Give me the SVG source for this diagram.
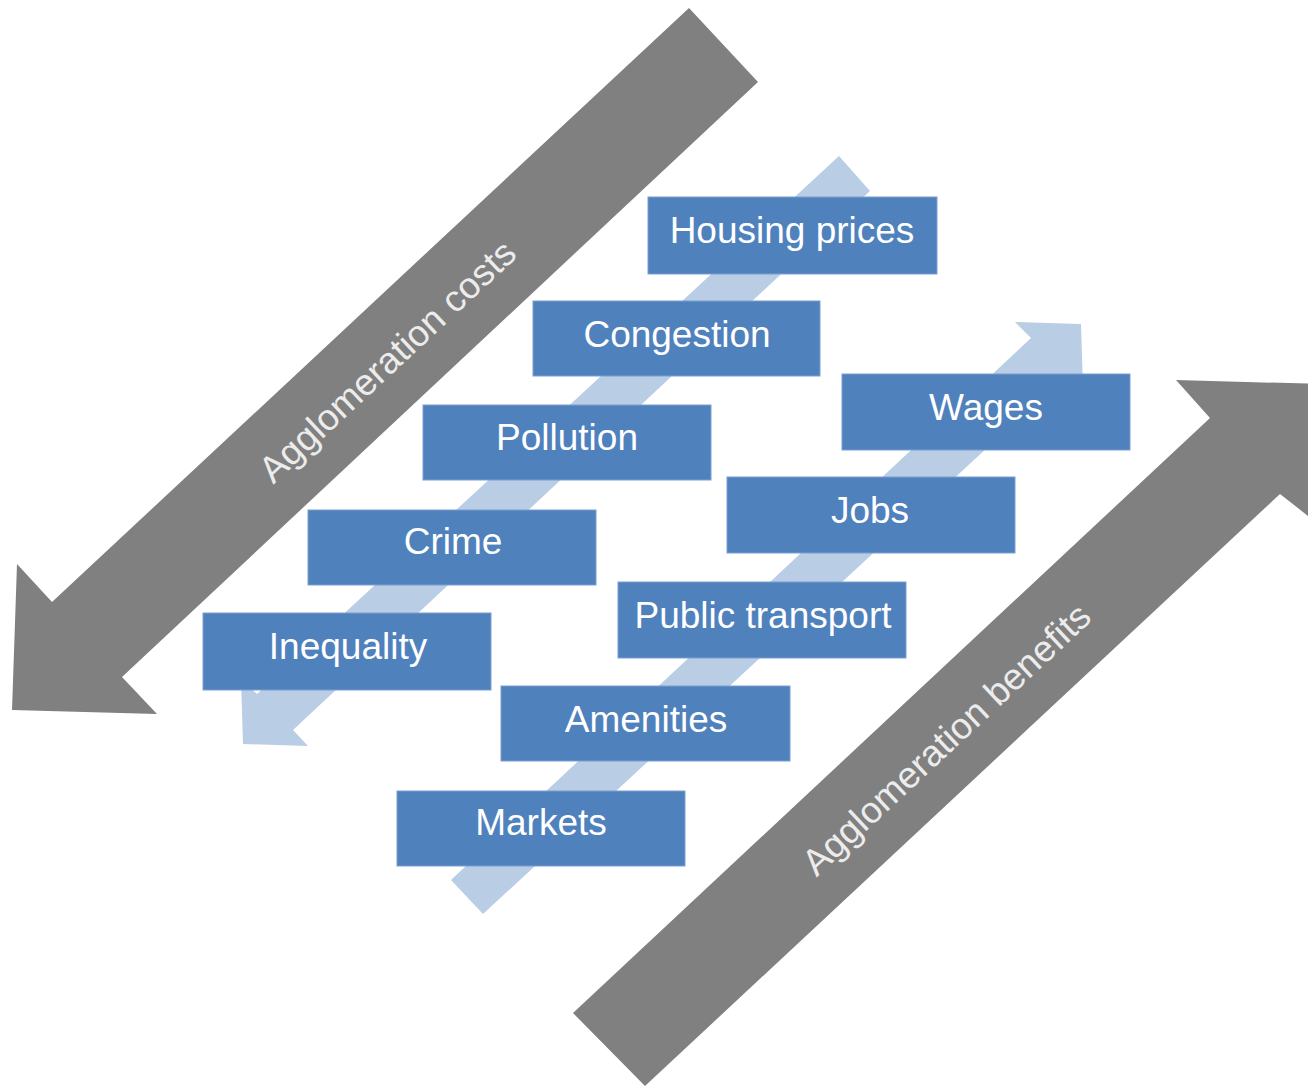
<svg xmlns="http://www.w3.org/2000/svg" width="1308" height="1086" viewBox="0 0 1308 1086">
<style>
.big{fill:#808080}
.thin{fill:#b9cde5}
.box{fill:#4f81bd;stroke:#7aa0d0;stroke-width:1}
.lbl{font-family:"Liberation Sans",Arial,sans-serif;font-size:37px;fill:#ffffff;text-anchor:middle}
.alb{font-family:"Liberation Sans",Arial,sans-serif;font-size:37px;fill:#ececec;text-anchor:middle}
</style>
<rect width="1308" height="1086" fill="#ffffff"/>
<g id="connectors">
<g id="costs-arrow">
<polygon class="big" points="689,8 758,82 122,677 157,714 12,710 17,564 52,602"/>
<text class="alb" transform="translate(387,361) rotate(-43)" y="13">Agglomeration costs</text>
</g>
<g id="benefits-arrow">
<polygon class="big" points="573,1013 1210,418 1176,380 1322,384 1326,530 1280,494 645,1086"/>
<text class="alb" transform="translate(946,739) rotate(-43)" y="13">Agglomeration benefits</text>
</g>
<polygon id="costs-flow" class="thin" points="839,156 870,191 293,730 308,746 243,744 241,679 257,694"/>
<polygon id="benefits-flow" class="thin" points="451,880 1031,338 1015,322 1081,324 1083,390 1067,374 483,914"/>
</g>
<g id="housing"><rect class="box" x="648" y="197" width="289" height="77"/><text class="lbl" x="792" y="243">Housing prices</text></g>
<g id="congestion"><rect class="box" x="533" y="301" width="287" height="75"/><text class="lbl" x="677" y="347">Congestion</text></g>
<g id="pollution"><rect class="box" x="423" y="405" width="288" height="75"/><text class="lbl" x="567" y="450">Pollution</text></g>
<g id="crime"><rect class="box" x="308" y="510" width="288" height="75"/><text class="lbl" x="453" y="554">Crime</text></g>
<g id="inequality"><rect class="box" x="203" y="613" width="288" height="77"/><text class="lbl" x="348" y="659">Inequality</text></g>
<g id="wages"><rect class="box" x="842" y="374" width="288" height="76"/><text class="lbl" x="986" y="420">Wages</text></g>
<g id="jobs"><rect class="box" x="727" y="477" width="288" height="76"/><text class="lbl" x="870" y="523">Jobs</text></g>
<g id="transport"><rect class="box" x="618" y="582" width="288" height="76"/><text class="lbl" x="763" y="628">Public transport</text></g>
<g id="amenities"><rect class="box" x="501" y="686" width="289" height="75"/><text class="lbl" x="646" y="732">Amenities</text></g>
<g id="markets"><rect class="box" x="397" y="791" width="288" height="75"/><text class="lbl" x="541" y="835">Markets</text></g>
</svg>
